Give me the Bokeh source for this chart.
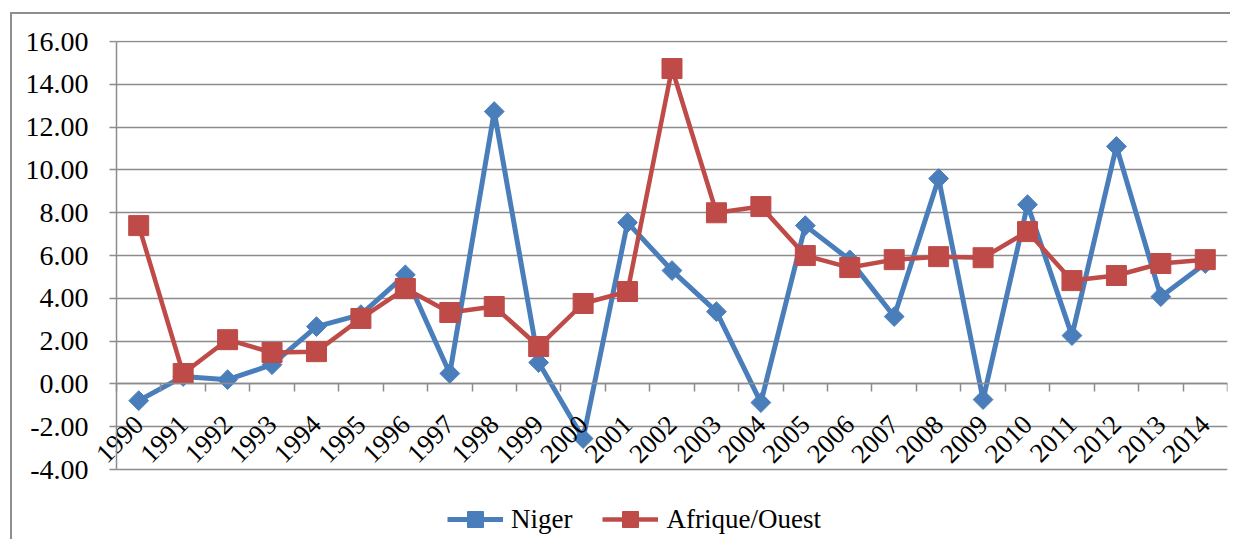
import math
from bokeh.plotting import figure
from bokeh.models import (FixedTicker, LinearAxis, NumeralTickFormatter, Range1d,
                          Legend, LegendItem, ColumnDataSource)
from bokeh.embed import file_html
from bokeh.resources import INLINE

# ---- data ----
years = [str(y) for y in range(1990, 2015)]
niger = [-0.78, 0.35, 0.20, 0.90, 2.68, 3.24, 5.10, 0.49, 12.73, 1.00,
         -2.55, 7.54, 5.30, 3.38, -0.87, 7.40, 5.80, 3.15, 9.60, -0.73,
         8.38, 2.26, 11.10, 4.08, 5.63]
afrique = [7.40, 0.49, 2.07, 1.47, 1.51, 3.06, 4.46, 3.34, 3.62, 1.75,
           3.76, 4.32, 14.74, 8.00, 8.29, 6.00, 5.44, 5.81, 5.95, 5.90,
           7.12, 4.83, 5.07, 5.63, 5.81]
y_ticks = [-4, -2, 0, 2, 4, 6, 8, 10, 12, 14, 16]
series_names = ["Niger", "Afrique/Ouest"]

FONT = "Liberation Serif"
GRID = "#8c8c8c"
BLUE = "#4a7ebb"
RED = "#be4b48"
EDGE = "#8e8e8e"

n = len(years)
xc = [i + 0.5 for i in range(n)]
src = ColumnDataSource(dict(x=xc, year=years, niger=niger, afrique=afrique))

# frame extends below the -4 line so that the legend sits inside it
p = figure(width=1230, height=539, output_backend="svg", toolbar_location=None,
           x_range=Range1d(-0.585, n), y_range=Range1d(-7.268, 16.05),
           min_border_left=90, min_border_right=3, min_border_top=40,
           min_border_bottom=0)
p.outline_line_color = None
p.background_fill_color = "white"
p.border_fill_alpha = 0
# chart-area edge (left and top) drawn behind the transparent border area
p.styles = {
    "background-color": "white",
    "background-image": (f"linear-gradient({EDGE}, {EDGE}), "
                         f"linear-gradient({EDGE}, {EDGE})"),
    "background-position": "10px 12px, 10px 12px",
    "background-size": "2px 100%, 100% 2px",
    "background-repeat": "no-repeat, no-repeat",
}

# grid
p.xgrid.visible = False
p.ygrid.ticker = FixedTicker(ticks=y_ticks)
p.ygrid.grid_line_color = GRID
p.ygrid.grid_line_width = 1.5
p.ygrid.cross_bounds = (0, n)

# y labels (normal left axis, labels only)
yax = p.yaxis[0]
yax.ticker = FixedTicker(ticks=y_ticks)
yax.formatter = NumeralTickFormatter(format="0.00")
yax.axis_line_color = None
yax.major_tick_line_color = None
yax.minor_tick_line_color = None
yax.major_tick_out = 0
yax.major_tick_in = 0
yax.major_label_text_font = FONT
yax.major_label_text_font_size = "28px"
yax.major_label_text_color = "black"
yax.major_label_standoff = 2

# y axis line + ticks at x = 0 (left edge of the categories)
yline = LinearAxis(ticker=FixedTicker(ticks=y_ticks), fixed_location=0,
                   bounds=(-4, 16))
yline.axis_line_color = GRID
yline.axis_line_width = 1.5
yline.major_tick_line_color = GRID
yline.major_tick_line_width = 1.5
yline.major_tick_out = 7
yline.major_tick_in = 0
yline.minor_tick_line_color = None
yline.major_label_text_alpha = 0
yline.major_label_text_font_size = "1px"
p.add_layout(yline, "left")

# x axis (ticks between categories, at y = 0)
xax = p.xaxis[0]
xax.ticker = FixedTicker(ticks=list(range(n + 1)))
xax.fixed_location = 0
xax.bounds = (0, n)
xax.axis_line_color = GRID
xax.axis_line_width = 1.5
xax.major_tick_line_color = GRID
xax.major_tick_line_width = 1.5
xax.major_tick_out = 8
xax.major_tick_in = 0
xax.minor_tick_line_color = None
xax.major_label_text_alpha = 0
xax.major_label_text_font_size = "1px"

# x labels (at category centres)
lab = LinearAxis(ticker=FixedTicker(ticks=xc),
                 major_label_overrides={x: y for x, y in zip(xc, years)},
                 fixed_location=0)
lab.axis_line_color = None
lab.major_tick_line_color = None
lab.minor_tick_line_color = None
lab.major_tick_out = 0
lab.major_tick_in = 0
lab.major_label_orientation = math.pi / 4
lab.major_label_standoff = 36
lab.major_label_text_font = FONT
lab.major_label_text_font_size = "27px"
lab.major_label_text_color = "black"
p.add_layout(lab, "below")

# series
ln_n = p.line("x", "niger", source=src, line_width=5, line_color=BLUE, line_join="round")
mk_n = p.scatter("x", "niger", source=src, marker="square", angle=math.pi / 4,
                 size=14, fill_color=BLUE, line_color=BLUE)
ln_a = p.line("x", "afrique", source=src, line_width=4.5, line_color=RED, line_join="round")
mk_a = p.scatter("x", "afrique", source=src, marker="square", size=20,
                 fill_color=RED, line_color=RED)

legend = Legend(items=[LegendItem(label=series_names[0], renderers=[ln_n, mk_n]),
                       LegendItem(label=series_names[1], renderers=[ln_a, mk_a])],
                orientation="horizontal", location=(357, 0))
legend.label_text_font = FONT
legend.label_text_font_size = "27px"
legend.label_text_color = "black"
legend.border_line_color = None
legend.background_fill_alpha = 0
legend.glyph_width = 56
legend.glyph_height = 40
legend.label_standoff = 8
legend.spacing = 30
legend.padding = 0
legend.margin = 0
p.add_layout(legend, "center")

open("out.html", "w").write(file_html(p, INLINE))
